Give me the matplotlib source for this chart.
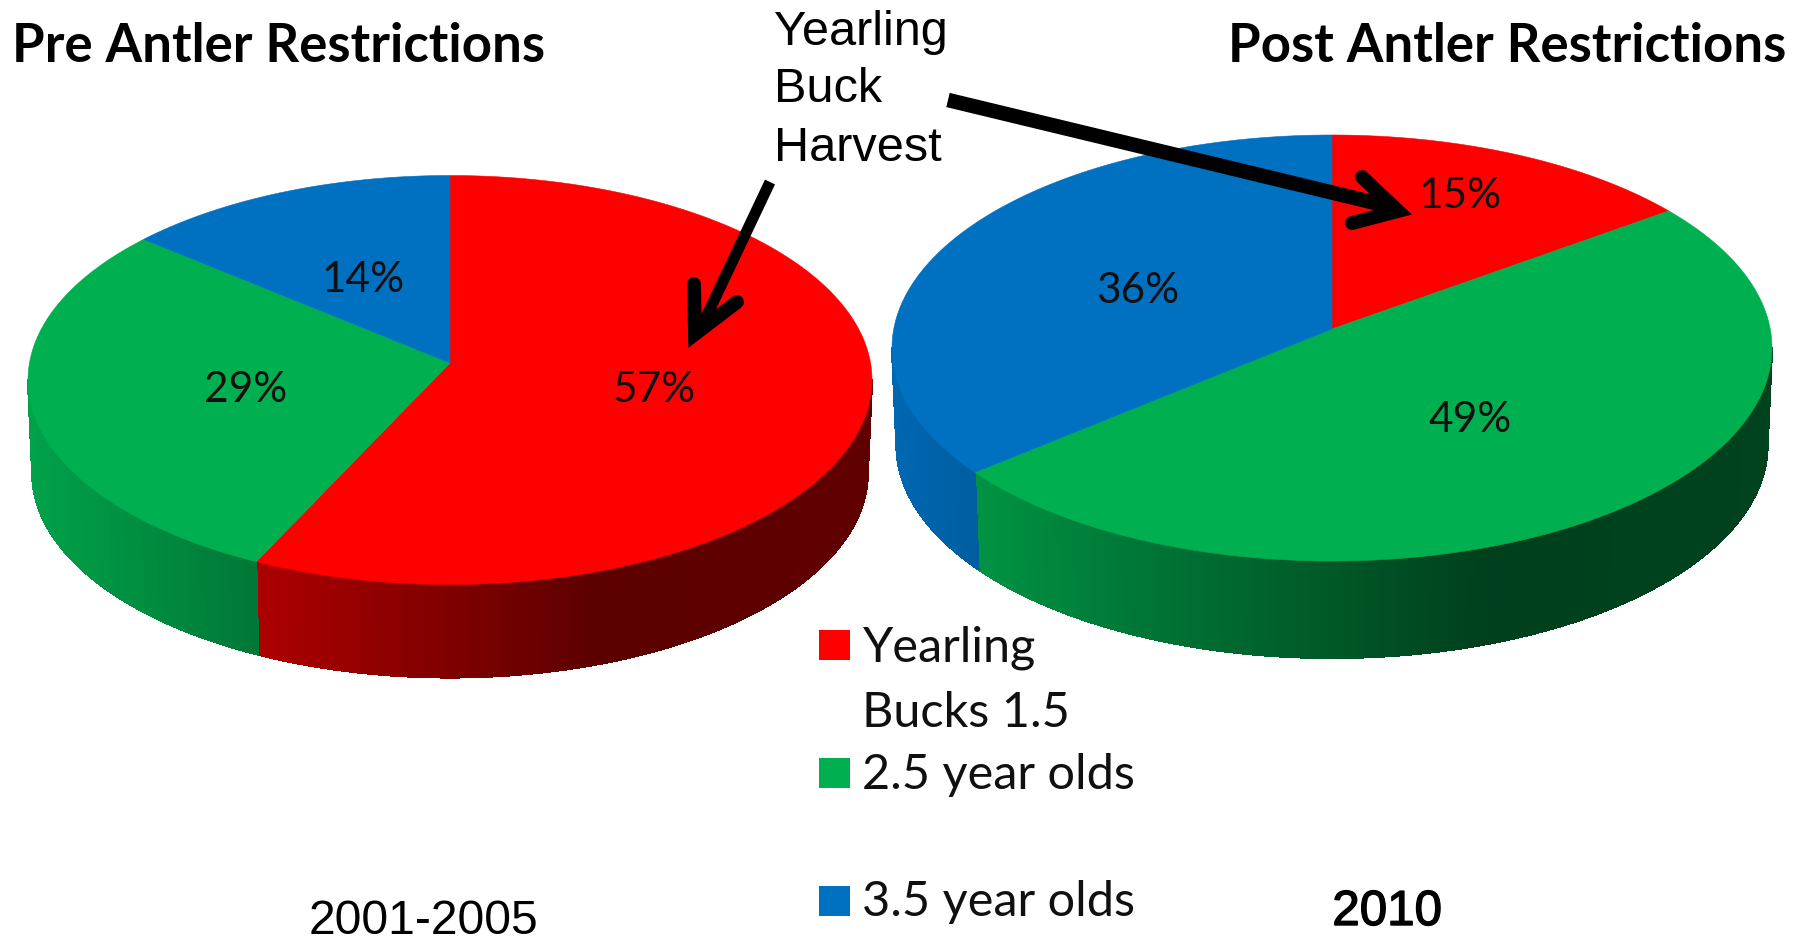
import numpy as np
import matplotlib
matplotlib.use('Agg')
import matplotlib.pyplot as plt
import matplotlib.patheffects as pe
from matplotlib.patches import Polygon, Rectangle

# data
age_classes = ['Yearling\nBucks 1.5', '2.5 year olds', '3.5 year olds']
pre_values = [57, 29, 14]
post_values = [15, 49, 36]
slice_colors = ['#FF0000', '#00B050', '#0070C0']

W, H = 1808, 944
fig = plt.figure(figsize=(W / 100, H / 100), dpi=100)
ax = fig.add_axes([0, 0, 1, 1])
ax.set_xlim(0, W)
ax.set_ylim(H, 0)
ax.axis('off')

SANS = 'Liberation Sans'
BODY = 'Lato'


def warp(theta):
    # the 3d pie is in perspective, angles get pulled to the front a bit
    return theta - np.radians(5.0) * np.sin(theta)


def shade(color, u):
    # dark part of the side wall is right of centre
    f = np.interp(u, [-1, -0.46, 0.35, 1], [0.92, 0.68, 0.36, 0.38])
    return tuple(c * f for c in matplotlib.colors.to_rgb(color))


def pie3d(values, cx, cy, rx, ry, apex_y, depth, label_r, label_shift):
    total = sum(values)
    edges = np.cumsum([0] + list(values)) / total * 2 * np.pi

    # side wall first
    for i in range(len(values)):
        a = max(warp(edges[i]), np.pi / 2)
        b = min(warp(edges[i + 1]), 3 * np.pi / 2)
        if b <= a:
            continue
        steps = np.linspace(a, b, max(int((b - a) * 120), 2))
        for t0, t1 in zip(steps[:-1], steps[1:]):
            ts = np.linspace(t0, t1, 3)
            top = np.c_[cx + rx * np.sin(ts), cy - ry * np.cos(ts)]
            bot = np.c_[cx + 0.99 * rx * np.sin(ts[::-1]), cy + depth - ry * np.cos(ts[::-1])]
            col = shade(slice_colors[i], np.sin((t0 + t1) / 2))
            ax.add_patch(Polygon(np.r_[top, bot], closed=True, fc=col, ec=col, lw=0.8,
                                 antialiased=False, zorder=1))

    # top face
    for i in range(len(values)):
        ts = np.linspace(warp(edges[i]), warp(edges[i + 1]), 200)
        arc = np.c_[cx + rx * np.sin(ts), cy - ry * np.cos(ts)]
        pts = np.r_[[[cx, apex_y]], arc]
        ax.add_patch(Polygon(pts, closed=True, fc=slice_colors[i], ec=slice_colors[i], lw=0.4, zorder=2))

        mid = (edges[i] + edges[i + 1]) / 2
        ax.text(cx + label_r[i] * rx * np.sin(mid) + label_shift[i][0],
                apex_y - label_r[i] * ry * np.cos(mid) + label_shift[i][1],
                '%d%%' % values[i], fontsize=30.5, family=BODY, color='#101010',
                ha='center', va='center', zorder=5)


pie3d(pre_values, 450, 380, 422, 204.5, 363, 93, [0.5, 0.5, 0.5], [(-2, 5), (2, 5), (3, 10)])
pie3d(post_values, 1332, 348, 440, 213, 329, 97, [0.68, 0.5, 0.5], [(-8, -4), (3, 7), (5, 7)])

# titles
ax.text(12, 62, 'Pre Antler Restrictions', fontsize=38, family=BODY, weight='bold', ha='left', va='baseline')
ax.text(1786, 62, 'Post Antler Restrictions', fontsize=38, family=BODY, weight='bold', ha='right', va='baseline')

# callout
for line, base in zip(['Yearling', 'Buck', 'Harvest'], [45, 102, 161]):
    ax.text(774, base, line, fontsize=35, family=SANS, ha='left', va='baseline')

ax.plot([770, 700], [182, 330], color='k', lw=8, solid_capstyle='butt', zorder=6)
ax.plot([694, 695, 737], [284, 334, 302], color='k', lw=10, solid_capstyle='round',
        solid_joinstyle='miter', zorder=6)
ax.plot([948, 1392], [100, 207], color='k', lw=10.5, solid_capstyle='butt', zorder=6)
ax.plot([1362, 1398, 1352], [177, 211, 223], color='k', lw=10, solid_capstyle='round',
        solid_joinstyle='miter', zorder=6)

# legend
legend_y = [630, 758, 886]
legend_base = [661, 789, 916]
for i, name in enumerate(age_classes):
    ax.add_patch(Rectangle((819, legend_y[i]), 31, 30, fc=slice_colors[i], ec='none', zorder=3))
    parts = name.split('\n')
    ax.text(862, legend_base[i], parts[0], fontsize=35, family=BODY, color='#101010', ha='left', va='baseline')
    if len(parts) > 1:
        ax.text(862, legend_base[i] + 66, parts[1], fontsize=35, family=BODY, color='#101010', ha='left', va='baseline')

ax.text(424, 943.5, '2001-2005', fontsize=34.7, family=SANS, ha='center', va='bottom')
ax.text(1387, 925, '2010', fontsize=35.5, family=SANS, ha='center', va='baseline',
        path_effects=[pe.withStroke(linewidth=1.0, foreground='k')])

fig.savefig('out.png', dpi=100, facecolor='white')
